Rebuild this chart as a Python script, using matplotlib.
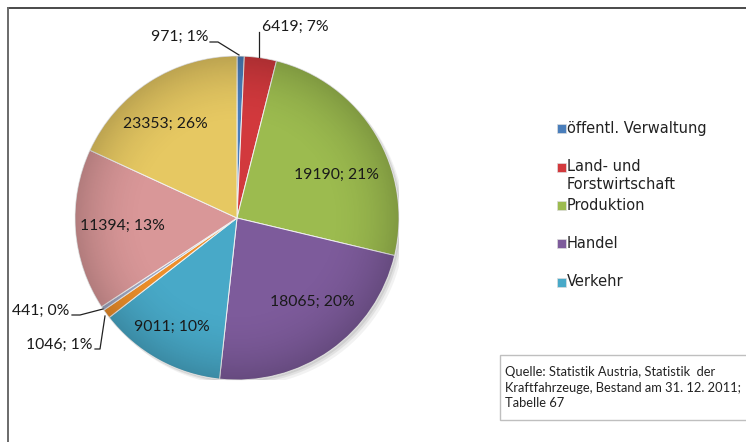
import matplotlib
matplotlib.use("Agg")
import matplotlib.pyplot as plt  # noqa: E402
import numpy as np  # noqa: E402
from matplotlib.lines import Line2D  # noqa: E402
from matplotlib.patches import Circle, Rectangle  # noqa: E402

# vehicle counts as printed on the slices, clockwise from 12 o'clock
counts = [971, 6419, 19190, 18065, 9011, 1046, 441, 11394, 23353]
# share of the circle each wedge takes in the drawing (the original 3-D pie
# is not drawn in proportion to its labels), in percent
drawn_share = [0.72, 3.2, 24.8, 23.0, 12.75, 0.9, 0.4, 16.1, 18.13]
# the legend of the source only shows the first five sectors
legend_names = ["öffentl. Verwaltung", "Land- und\nForstwirtschaft",
                "Produktion", "Handel", "Verkehr"]
source_lines = ["Quelle: Statistik Austria, Statistik  der",
                "Kraftfahrzeuge, Bestand am 31. 12. 2011;",
                "Tabelle 67"]

colors = ["#4A7EBB", "#D2393D", "#9CBB4F", "#7D5B9B", "#48A9C8",
          "#EE8F2A", "#9EA6C2", "#D99798", "#E6C862"]

W, H = 746, 442


def fx(x):
    return x / W


def fy(y):
    return 1 - y / H


total = sum(counts)
labels = [f"{c}; {round(c / total * 100)}%" for c in counts]

fig = plt.figure(figsize=(W / 100, H / 100), dpi=100)
fig.patch.set_facecolor("white")

# outer chart frame (top and left edges visible)
fig.add_artist(Line2D([fx(8), fx(W)], [fy(8), fy(8)], color="#4a4a4a", lw=1.4,
                      transform=fig.transFigure))
fig.add_artist(Line2D([fx(8), fx(8)], [fy(8), fy(H)], color="#6a6a6a", lw=1.4,
                      transform=fig.transFigure))

cx, cy, r = 237, 218, 162
ax = fig.add_axes([fx(cx - r), fy(cy + r), 2 * r / W, 2 * r / H])

# soft shadow under the pie
for k, a in [(0.035, 0.10), (0.022, 0.14), (0.012, 0.18)]:
    ax.add_patch(Circle((k, -k), 1.0, color="#808080", alpha=a, lw=0, zorder=0))

wedges, _ = ax.pie(drawn_share, colors=colors, startangle=90, counterclock=False,
                   radius=1, wedgeprops=dict(edgecolor="#f2f2f2", linewidth=0.7))
for w in wedges:
    w.set_zorder(2)

# radial shading like the Excel bevel
n = 300
g = np.linspace(-1, 1, n)
xx, yy = np.meshgrid(g, g)
rr = np.sqrt(xx ** 2 + yy ** 2)
shade = np.zeros((n, n, 4))
shade[..., 3] = np.clip((rr - 0.55) / 0.45, 0, 1) ** 2 * 0.18
im = ax.imshow(shade, extent=(-1, 1, -1, 1), origin="lower", zorder=3)
im.set_clip_path(Circle((0, 0), 1, transform=ax.transData))

ax.set_xlim(-1, 1)
ax.set_ylim(-1, 1)
ax.set_aspect("equal")
ax.axis("off")

# data labels (pixel positions of the label centres)
lab_font = dict(family=["Lato", "DejaVu Sans"], fontsize=11.3, color="#1a1a1a")
inside = {2: (337, 175), 3: (312, 302), 4: (172, 327), 7: (122, 226), 8: (165, 124)}
for i, (px, py) in inside.items():
    fig.text(fx(px), fy(py), labels[i], ha="center", va="center", **lab_font)

fig.text(fx(208), fy(37), labels[0], ha="right", va="center", **lab_font)
fig.text(fx(262), fy(27), labels[1], ha="left", va="center", **lab_font)
fig.text(fx(69), fy(311), labels[6], ha="right", va="center", **lab_font)
fig.text(fx(93), fy(345), labels[5], ha="right", va="center", **lab_font)

leaders = [
    [(210, 42), (218, 42), (239, 55)],
    [(259, 32), (259, 57)],
    [(72, 315), (80, 315), (103, 309)],
    [(95, 349), (100, 349), (105, 316)],
]
for pts in leaders:
    xs = [fx(p[0]) for p in pts]
    ys = [fy(p[1]) for p in pts]
    fig.add_artist(Line2D(xs, ys, color="#222222", lw=0.9, transform=fig.transFigure))

# legend, drawn by hand to keep the Excel spacing
leg_y = [128, 167, 205, 243, 282]
for name, col, y in zip(legend_names, colors, leg_y):
    fig.add_artist(Rectangle((fx(557), fy(y + 4.5)), 8.5 / W, 8.5 / H,
                             facecolor=col, edgecolor="#dddddd", lw=0.5,
                             transform=fig.transFigure))
    two_lines = "\n" in name
    fig.text(fx(567), fy(y - 8) if two_lines else fy(y), name, ha="left",
             va="top" if two_lines else "center",
             family="DejaVu Sans", fontsize=10.5, color="#222222", linespacing=1.25)

# source note box
fig.add_artist(Rectangle((fx(500), fy(420)), (W - 500 + 5) / W, 65 / H,
                         facecolor="white", edgecolor="#bfbfbf", lw=1.0,
                         transform=fig.transFigure))
for line, y in zip(source_lines, [372, 388, 403]):
    fig.text(fx(505), fy(y), line, ha="left", va="center",
             family=["Lato", "DejaVu Sans"], fontsize=9.3, color="#222222")

fig.savefig("out.png", dpi=100)
plt.close(fig)
